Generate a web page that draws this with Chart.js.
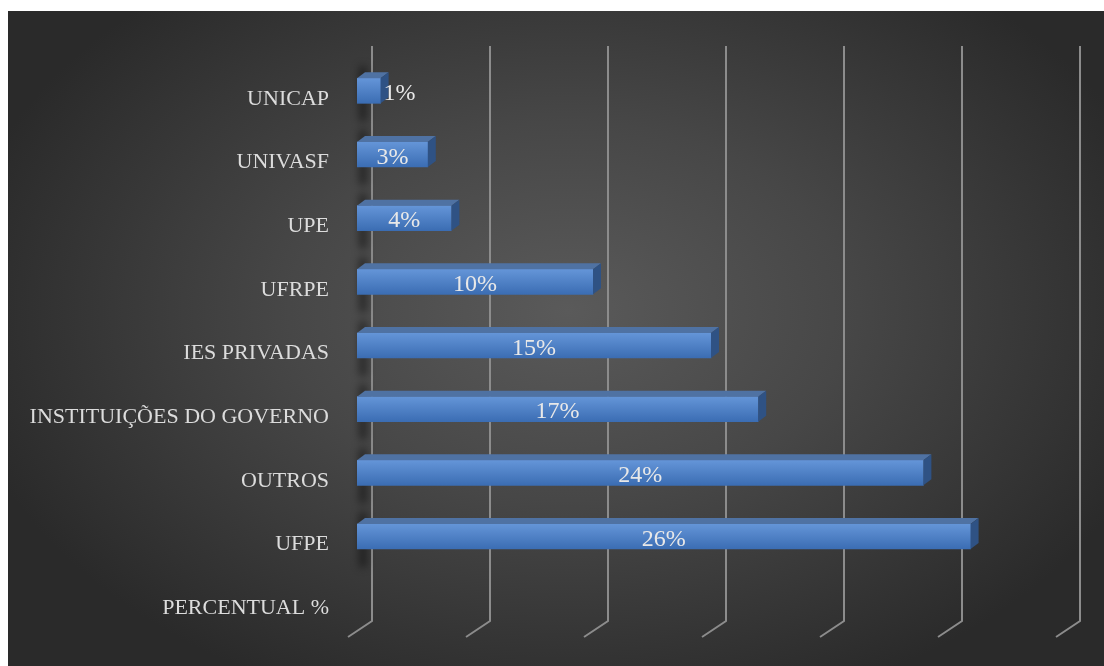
<!DOCTYPE html>
<html>
<head>
<meta charset="utf-8">
<script src="https://cdn.jsdelivr.net/npm/chart.js@4"></script>
<style>
  html, body { margin: 0; padding: 0; background: #fff; }
  #wrap {
    position: absolute; left: 8px; top: 11px; width: 1096px; height: 655px;
    background: radial-gradient(ellipse 620px 420px at 560px 300px, #5a5a5a 0%, #474747 45%, #2a2a2a 100%);
  }
</style>
</head>
<body>
<div id="wrap"><canvas id="bar-chart" width="1096" height="655"></canvas></div>
<script>
// categories top to bottom, last one is an empty row
const categories = ['UNICAP', 'UNIVASF', 'UPE', 'UFRPE', 'IES PRIVADAS',
    'INSTITUIÇÕES DO GOVERNO', 'OUTROS', 'UFPE', 'PERCENTUAL %'];
const percentual = [1, 3, 4, 10, 15, 17, 24, 26, null];
const gridTicks = [0, 5, 10, 15, 20, 25, 30];

const serif = '"Liberation Serif", "DejaVu Serif", serif';

// fake 3D: back wall gridlines, bar shadows, top/right faces, labels
const box3d = {
    id: 'box3d',
    beforeDatasetsDraw(chart) {
        const ctx = chart.ctx;
        const xs = chart.scales.x;
        ctx.save();
        ctx.strokeStyle = '#8c8c8c';
        ctx.lineWidth = 2;
        gridTicks.forEach(function (v) {
            const x = xs.getPixelForValue(v);
            ctx.beginPath();
            ctx.moveTo(x + 15, 35);
            ctx.lineTo(x + 15, 610);
            ctx.lineTo(x - 9, 626);
            ctx.stroke();
        });
        // shadow of bars on back wall
        const meta = chart.getDatasetMeta(0);
        ctx.filter = 'blur(4px)';
        ctx.fillStyle = 'rgba(0,0,0,0.6)';
        meta.data.forEach(function (bar, i) {
            if (percentual[i] == null) return;
            const top = bar.y - bar.height / 2;
            ctx.fillRect(bar.base + 3, top - 12, 6, bar.height + 30);
        });
        ctx.restore();
    },
    afterDatasetsDraw(chart) {
        const ctx = chart.ctx;
        const meta = chart.getDatasetMeta(0);
        const dx = 8, dy = 6;
        ctx.save();
        meta.data.forEach(function (bar, i) {
            if (percentual[i] == null) return;
            const x0 = bar.base, x1 = bar.x;
            const top = bar.y - bar.height / 2, bottom = bar.y + bar.height / 2;
            ctx.fillStyle = '#4f72a3';
            ctx.beginPath();
            ctx.moveTo(x0, top);
            ctx.lineTo(x0 + dx, top - dy);
            ctx.lineTo(x1 + dx, top - dy);
            ctx.lineTo(x1, top);
            ctx.closePath();
            ctx.fill();
            ctx.fillStyle = '#2f5284';
            ctx.beginPath();
            ctx.moveTo(x1, top);
            ctx.lineTo(x1 + dx, top - dy);
            ctx.lineTo(x1 + dx, bottom - dy);
            ctx.lineTo(x1, bottom);
            ctx.closePath();
            ctx.fill();

            ctx.fillStyle = '#e8e8e8';
            ctx.font = '24px ' + serif;
            ctx.textBaseline = 'middle';
            const txt = percentual[i] + '%';
            if (x1 - x0 < 45) {
                ctx.textAlign = 'left';
                ctx.fillText(txt, x1 + 3, bar.y + 3);
            } else {
                ctx.textAlign = 'center';
                ctx.fillText(txt, (x0 + x1) / 2, bar.y + 3);
            }
        });
        ctx.restore();
    }
};

new Chart(document.getElementById('bar-chart'), {
    type: 'bar',
    data: {
        labels: categories,
        datasets: [{
            label: 'Percentual %',
            data: percentual,
            barThickness: 25,
            backgroundColor: function (c) {
                const ys = c.chart.scales.y;
                if (!ys) return '#4a7ec4';
                const top = ys.getPixelForValue(c.dataIndex) - 12.5;
                if (!isFinite(top)) return '#4a7ec4';
                const g = c.chart.ctx.createLinearGradient(0, top, 0, top + 25);
                g.addColorStop(0, '#6495d8');
                g.addColorStop(1, '#3b6db3');
                return g;
            },
            borderWidth: 0
        }]
    },
    options: {
        indexAxis: 'y',
        responsive: false,
        animation: false,
        layout: { padding: { top: 48, bottom: 34, right: 39, left: 0 } },
        plugins: {
            legend: { display: false },
            tooltip: { enabled: false }
        },
        scales: {
            x: {
                min: 0, max: 30,
                afterFit: function (s) { s.height = 0; },
                ticks: { display: false, stepSize: 5 },
                grid: { display: false },
                border: { display: false }
            },
            y: {
                afterFit: function (s) {
                    s.width = 349;
                    s.paddingTop = 0;
                    s.paddingBottom = 0;
                },
                grid: { display: false, drawTicks: false },
                border: { display: false },
                ticks: {
                    color: '#dcdcdc',
                    padding: 28,
                    labelOffset: 8,
                    font: { family: serif, size: 22 }
                }
            }
        }
    },
    plugins: [box3d]
});
</script>
</body>
</html>
